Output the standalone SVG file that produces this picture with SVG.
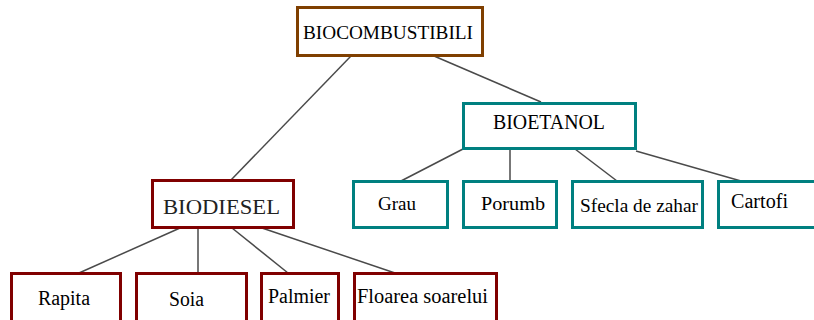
<svg xmlns="http://www.w3.org/2000/svg" width="814" height="320" viewBox="0 0 814 320" font-family="Liberation Serif, Times New Roman, serif">
<style>
rect.b{fill:#fff;stroke-width:3}
.br{stroke:#7f3f00}
.tl{stroke:#008080}
.dr{stroke:#800000}
.t{font-family:'Liberation Serif','Times New Roman',serif;fill:#000}
.lk line{stroke:#4a4a4a;stroke-width:1.5}
</style>
<rect width="814" height="320" fill="#fff"/>
<g class="lk" id="connectors">
<line x1="351" y1="56" x2="231" y2="180"/>
<line x1="434" y1="56" x2="541" y2="102"/>
<line x1="463" y1="149" x2="401" y2="181"/>
<line x1="510" y1="149" x2="510" y2="181"/>
<line x1="575" y1="149" x2="617" y2="181"/>
<line x1="636" y1="151" x2="741" y2="181"/>
<line x1="180" y1="228" x2="79" y2="273"/>
<line x1="198" y1="228" x2="198" y2="273"/>
<line x1="232" y1="228" x2="288" y2="273"/>
<line x1="262" y1="228" x2="395" y2="273"/>
</g>
<g id="biocombustibili"><rect class="b br" x="297.5" y="7.5" width="185" height="48"/><text class="t" x="303" y="39" font-size="19" textLength="170" lengthAdjust="spacingAndGlyphs">BIOCOMBUSTIBILI</text></g>
<g id="bioetanol"><rect class="b tl" x="463.5" y="103.5" width="172" height="45"/><text class="t" x="493" y="129" font-size="20" textLength="112" lengthAdjust="spacingAndGlyphs">BIOETANOL</text></g>
<g id="biodiesel"><rect class="b dr" x="152.5" y="180.5" width="141" height="47"/><text class="t" x="163" y="214" font-size="22" style="fill:#222" textLength="117" lengthAdjust="spacingAndGlyphs">BIODIESEL</text></g>
<g id="grau"><rect class="b tl" x="353.5" y="181.5" width="94" height="46"/><text class="t" x="378" y="210" font-size="19" textLength="38" lengthAdjust="spacingAndGlyphs">Grau</text></g>
<g id="porumb"><rect class="b tl" x="463.5" y="181.5" width="93" height="46"/><text class="t" x="481" y="210" font-size="19" textLength="64" lengthAdjust="spacingAndGlyphs">Porumb</text></g>
<g id="sfecla"><rect class="b tl" x="572.5" y="181.5" width="130" height="46"/><text class="t" x="580" y="212" font-size="19" textLength="118" lengthAdjust="spacingAndGlyphs">Sfecla de zahar</text></g>
<g id="cartofi"><rect class="b tl" x="718.5" y="181.5" width="110" height="46"/><text class="t" x="731" y="208" font-size="20" textLength="57" lengthAdjust="spacingAndGlyphs">Cartofi</text></g>
<g id="rapita"><rect class="b dr" x="11.5" y="273.5" width="109" height="60"/><text class="t" x="38" y="305" font-size="20" textLength="52" lengthAdjust="spacingAndGlyphs">Rapita</text></g>
<g id="soia"><rect class="b dr" x="136.5" y="273.5" width="110" height="60"/><text class="t" x="169" y="306" font-size="20" textLength="35" lengthAdjust="spacingAndGlyphs">Soia</text></g>
<g id="palmier"><rect class="b dr" x="261.5" y="273.5" width="77" height="60"/><text class="t" x="268" y="303" font-size="20" textLength="62" lengthAdjust="spacingAndGlyphs">Palmier</text></g>
<g id="floarea"><rect class="b dr" x="354.5" y="273.5" width="142" height="60"/><text class="t" x="357" y="303" font-size="20" textLength="131" lengthAdjust="spacingAndGlyphs">Floarea soarelui</text></g>
</svg>
